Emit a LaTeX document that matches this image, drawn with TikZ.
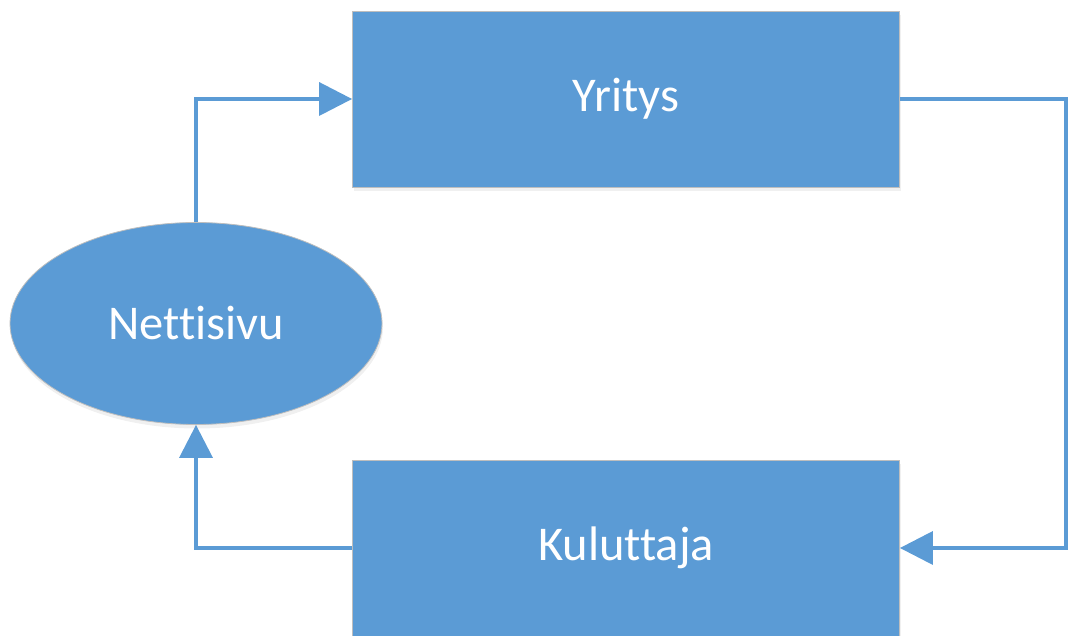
\documentclass[tikz,border=0pt]{standalone}
\usepackage{fontspec}
\setmainfont[Ligatures=NoCommon]{Carlito}
\usepackage{tikz}
\usetikzlibrary{arrows.meta, shapes, positioning, shadows}

\definecolor{officeblue}{RGB}{91,155,213}
\definecolor{edgegray}{RGB}{190,190,190}

\begin{document}
\begin{tikzpicture}[
  x=1pt, y=1pt,
  line/.style={draw=officeblue, line width=3.5pt,
               -{Triangle[length=33pt, width=33pt]}},
  box/.style={rectangle, draw=edgegray, line width=0.8pt, fill=officeblue,
              text=white, font=\fontsize{48.5}{58}\selectfont,
              minimum width=547pt, minimum height=176pt, inner sep=0pt,
              drop shadow={opacity=0.12, shadow xshift=1pt, shadow yshift=-4pt}},
  oval/.style={ellipse, draw=edgegray, line width=0.8pt, fill=officeblue,
              text=white, font=\fontsize{48.5}{58}\selectfont,
              minimum width=372pt, minimum height=202pt, inner sep=0pt,
              drop shadow={opacity=0.12, shadow xshift=1pt, shadow yshift=-4pt}}
]
\useasboundingbox (0,0) rectangle (1068,636);

% =======================================================
%                     MAIN COMPONENTS
% =======================================================
\node[box] (yritys) at (626,537) {Yritys};
\node[box] (kuluttaja) at (626,88) {Kuluttaja};
\node[oval] (nettisivu) at (196,312.5) {Nettisivu};

\coordinate (rightedge) at (1066,0);

% =======================================================
%                     CONNECTIONS
% =======================================================

% Nettisivu -> Yritys
\draw[line] (nettisivu.north) |- (yritys.west);

% Yritys -> Kuluttaja (round the right side)
\draw[line] (yritys.east) -| (rightedge |- kuluttaja.east) -- (kuluttaja.east);

% Kuluttaja -> Nettisivu
\draw[line] (kuluttaja.west) -| (nettisivu.south);

\end{tikzpicture}
\end{document}
